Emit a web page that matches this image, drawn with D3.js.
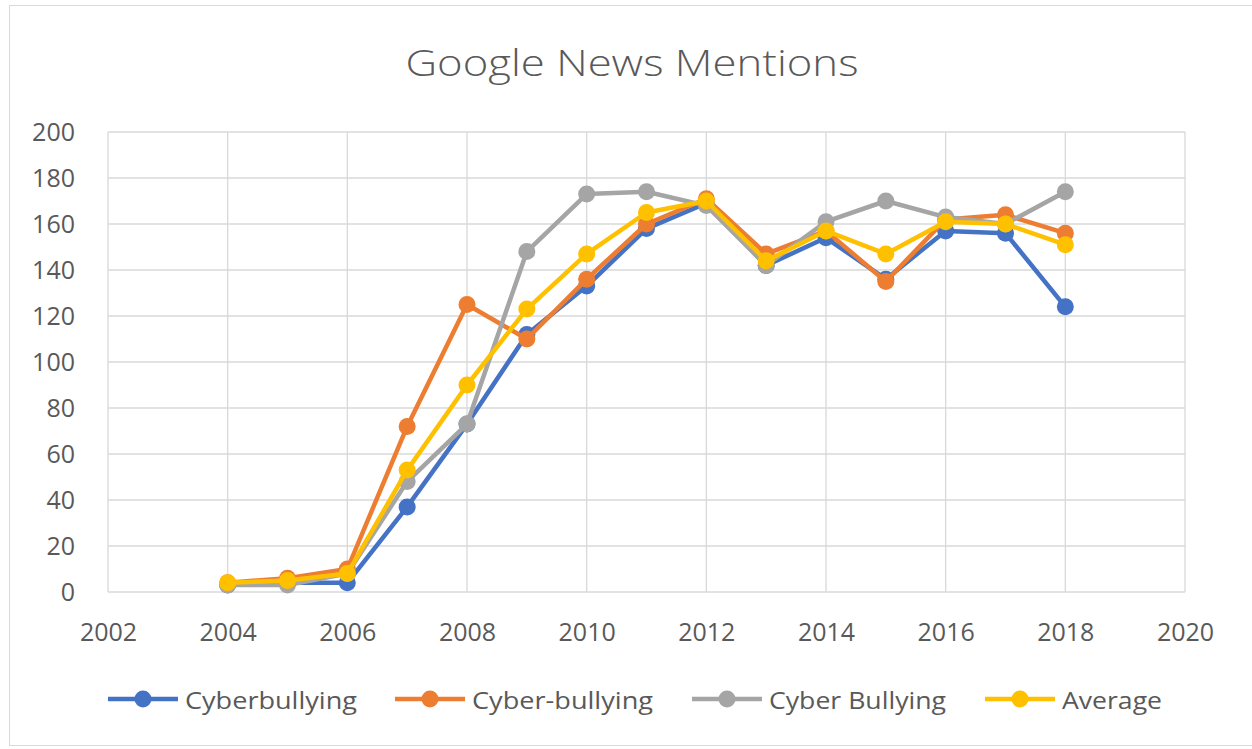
<!DOCTYPE html>
<html>
<head>
<meta charset="utf-8">
<script src="https://cdn.jsdelivr.net/npm/d3@7"></script>
<style>
  body { margin: 0; background: #fff; }
  text { font-family: "Open Sans", sans-serif; fill: #595959; }
</style>
</head>
<body>
<svg id="chart" width="1252" height="749"></svg>
<script>
// Data
const years = [2004, 2005, 2006, 2007, 2008, 2009, 2010, 2011, 2012, 2013, 2014, 2015, 2016, 2017, 2018];
const cyberbullying = [3, 4, 4, 37, 73, 112, 133, 158, 169, 142, 154, 136, 157, 156, 124];
const cyberHyphenBullying = [4, 6, 10, 72, 125, 110, 136, 160, 171, 147, 157, 135, 162, 164, 156];
const cyberSpaceBullying = [3, 3, 8, 48, 73, 148, 173, 174, 168, 142, 161, 170, 163, 160, 174];
const average = [4, 5, 8, 53, 90, 123, 147, 165, 170, 144, 157, 147, 161, 160, 151];
const xTicks = [2002, 2004, 2006, 2008, 2010, 2012, 2014, 2016, 2018, 2020];
const yTicks = [0, 20, 40, 60, 80, 100, 120, 140, 160, 180, 200];

const series = [
  { name: "Cyberbullying", values: cyberbullying, color: "#4472c4" },
  { name: "Cyber-bullying", values: cyberHyphenBullying, color: "#ed7d31" },
  { name: "Cyber Bullying", values: cyberSpaceBullying, color: "#a5a5a5" },
  { name: "Average", values: average, color: "#ffc000" }
];

const svg = d3.select("#chart");

// chart frame
svg.append("rect")
  .attr("x", 9.5).attr("y", 5.5)
  .attr("width", 1250).attr("height", 740)
  .attr("fill", "#fff").attr("stroke", "#d9d9d9");

const x = d3.scaleLinear().domain([2002, 2020]).range([108, 1185]);
const y = d3.scaleLinear().domain([0, 200]).range([592, 132]);

// gridlines
svg.append("g").selectAll("line").data(yTicks).enter().append("line")
  .attr("x1", x(2002)).attr("x2", x(2020))
  .attr("y1", d => y(d)).attr("y2", d => y(d))
  .attr("stroke", "#d9d9d9").attr("stroke-width", 1.3);
svg.append("g").selectAll("line").data(xTicks).enter().append("line")
  .attr("x1", d => x(d)).attr("x2", d => x(d))
  .attr("y1", y(0)).attr("y2", y(200))
  .attr("stroke", "#d9d9d9").attr("stroke-width", 1.3);

// axes
const yAxis = d3.axisLeft(y).tickValues(yTicks).tickSize(0).tickPadding(33);
const xAxis = d3.axisBottom(x).tickValues(xTicks).tickSize(0).tickPadding(31).tickFormat(d3.format("d"));

svg.append("g").attr("transform", `translate(${x(2002)},0)`).call(yAxis)
  .call(g => g.select(".domain").remove())
  .selectAll("text").style("font-size", "25px").style("font-family", "Open Sans").attr("fill", "#595959");
svg.append("g").attr("transform", `translate(0,${y(0)})`).call(xAxis)
  .call(g => g.select(".domain").remove())
  .selectAll("text").style("font-size", "25px").style("font-family", "Open Sans").attr("fill", "#595959");

// title
svg.append("text")
  .attr("x", 632).attr("y", 76)
  .attr("text-anchor", "middle")
  .style("font-size", "37px")
  .style("font-weight", 300)
  .attr("textLength", 453)
  .attr("lengthAdjust", "spacingAndGlyphs")
  .text("Google News Mentions");

// lines and markers
const line = d3.line().x((d, i) => x(years[i])).y(d => y(d));

series.forEach(s => {
  svg.append("path")
    .datum(s.values)
    .attr("fill", "none")
    .attr("stroke", s.color)
    .attr("stroke-width", 4.5)
    .attr("stroke-linejoin", "round")
    .attr("d", line);
  svg.append("g").selectAll("circle").data(s.values).enter().append("circle")
    .attr("cx", (d, i) => x(years[i]))
    .attr("cy", d => y(d))
    .attr("r", 8.5)
    .attr("fill", s.color);
});

// legend
const legendX = [108, 395, 692, 985];
const legendW = [172, 181, 177, 100];
const legend = svg.append("g");
series.forEach((s, i) => {
  const g = legend.append("g").attr("transform", `translate(${legendX[i]},699)`);
  g.append("line").attr("x1", 0).attr("x2", 70).attr("y1", 0).attr("y2", 0)
    .attr("stroke", s.color).attr("stroke-width", 4.5);
  g.append("circle").attr("cx", 35).attr("cy", 0).attr("r", 8.5).attr("fill", s.color);
  g.append("text").attr("x", 77).attr("y", 10).style("font-size", "24px")
    .attr("textLength", legendW[i]).attr("lengthAdjust", "spacingAndGlyphs")
    .text(s.name);
});
</script>
</body>
</html>
